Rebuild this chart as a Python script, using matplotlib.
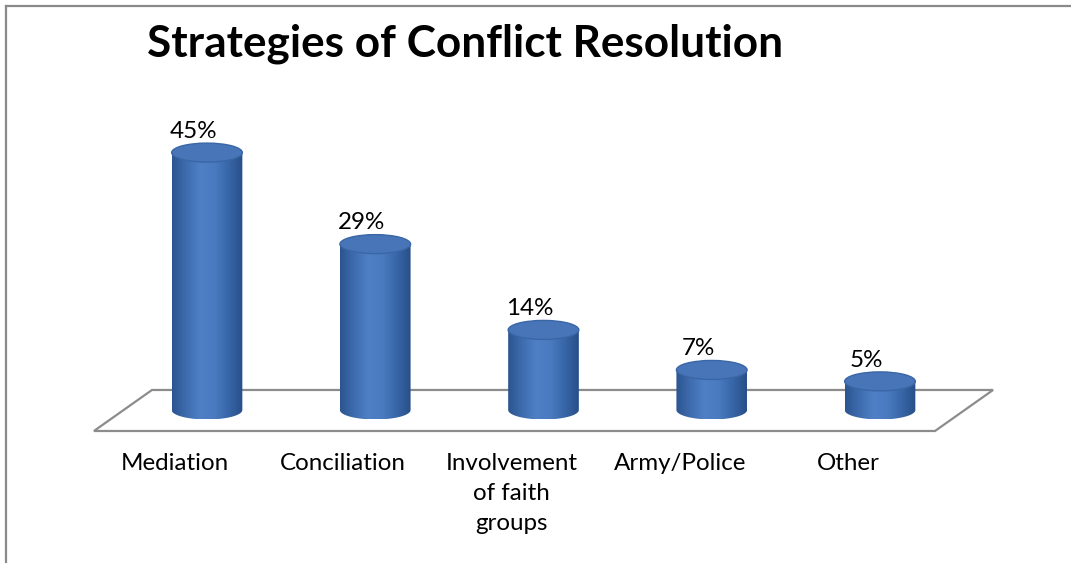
import numpy as np
import matplotlib.pyplot as plt
from matplotlib.colors import LinearSegmentedColormap
from matplotlib.lines import Line2D
from matplotlib.patches import Ellipse, Polygon

categories = ["Mediation", "Conciliation", "Involvement\nof faith\ngroups",
              "Army/Police", "Other"]
values = [45, 29, 14, 7, 5]
value_labels = ["45%", "29%", "14%", "7%", "5%"]
title = "Strategies of Conflict Resolution"

plt.rcParams["font.family"] = ["Lato", "DejaVu Sans"]

W, H = 1071, 563
fig = plt.figure(figsize=(W / 100, H / 100), dpi=100)
ax = fig.add_axes([0, 0, 1, 1])
ax.set_axis_off()

# category spacing 168.25 px, first bar at x=207 px; 5.72 px per percent, zero at y=410 px
XPX, X0 = 168.25, 207
YPX, Y0 = 5.72, 410

bar_w = 0.42
ell_h = 19 / YPX          # full height of the cylinder end ellipses

# floor plane
floor = Polygon([(-0.327, 3.5), (4.672, 3.5), (4.327, -3.67), (-0.672, -3.67)],
                closed=True, fill=False, edgecolor="#8c8c8c", lw=1.6, zorder=1)
ax.add_patch(floor)

side_cmap = LinearSegmentedColormap.from_list(
    "cyl", ["#2c5590", "#3e6cae", "#4f80c6", "#4a7bc0", "#3866a8", "#284f88"])
grad = np.linspace(0, 1, 200).reshape(1, -1)

x = np.arange(len(values))
for xi, v, lab in zip(x, values, value_labels):
    left, right = xi - bar_w / 2, xi + bar_w / 2
    t = np.linspace(np.pi, 2 * np.pi, 60)
    arc = np.column_stack([xi + bar_w / 2 * np.cos(t), ell_h / 2 * np.sin(t)])
    body = np.vstack([[(left, v)], arc, [(right, v)]])
    poly = Polygon(body, closed=True, facecolor="none", edgecolor="none", zorder=3)
    ax.add_patch(poly)
    im = ax.imshow(grad, cmap=side_cmap, aspect="auto", zorder=3,
                   extent=(left, right, -ell_h / 2, v), interpolation="bilinear")
    im.set_clip_path(poly)
    top = Ellipse((xi, v), bar_w, ell_h, facecolor="#4775b8",
                  edgecolor="#3a66a6", lw=1.0, zorder=4)
    ax.add_patch(top)
    ax.text(xi - 0.08, v + 2.6, lab, ha="center", va="baseline",
            fontsize=17.4, color="#000000", zorder=5)

for xi, cat in zip(x, categories):
    ax.text(xi - 0.19, (Y0 - 453) / YPX, cat, ha="center", va="top",
            fontsize=17.4, linespacing=1.52, color="#000000")

ax.set_xlim(-X0 / XPX, (W - X0) / XPX)
ax.set_ylim((Y0 - H) / YPX, Y0 / YPX)

fig.text(465 / W, 1 - 57 / H, title, ha="center", va="baseline",
         fontsize=31.8, fontweight="bold", color="#000000")

# chart border (left and top edges)
fig.add_artist(Line2D([5.5 / W, 5.5 / W], [0, 1 - 6 / H], color="#8a8a8a",
                      lw=1.6, transform=fig.transFigure))
fig.add_artist(Line2D([5.5 / W, 1], [1 - 6 / H, 1 - 6 / H], color="#8a8a8a",
                      lw=1.6, transform=fig.transFigure))

fig.savefig("out.png", dpi=100)
